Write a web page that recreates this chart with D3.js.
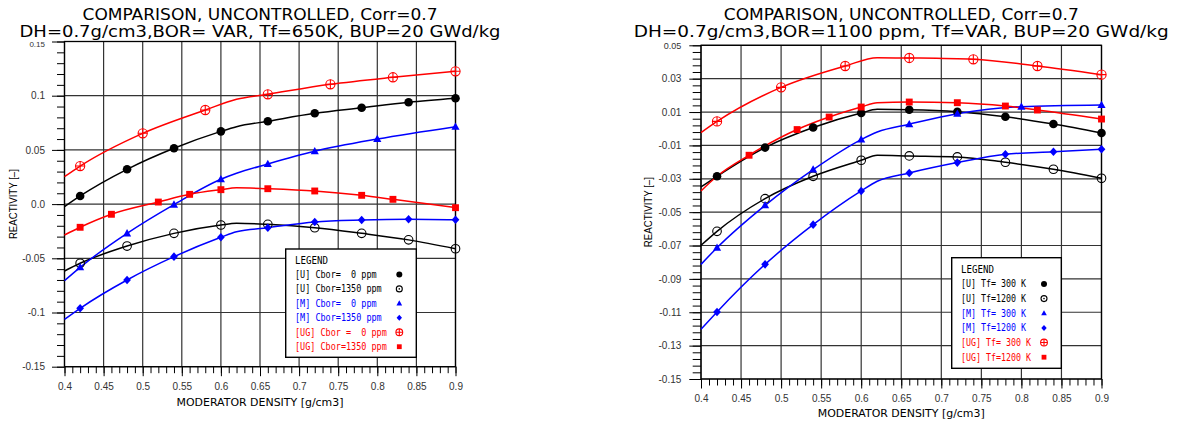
<!DOCTYPE html>
<html>
<head>
<meta charset="utf-8">
<script src="https://cdn.jsdelivr.net/npm/d3@7"></script>
<style>
  body { margin: 0; background: #fff; }
  text { white-space: pre; }
</style>
</head>
<body>
<svg id="chart" width="1178" height="423"></svg>
<script>
// ---- shared x axis ----
const xTickVals = [0.40, 0.45, 0.50, 0.55, 0.60, 0.65, 0.70, 0.75, 0.80, 0.85, 0.90];
const xTickLabels = ["0.4", "0.45", "0.5", "0.55", "0.6", "0.65", "0.7", "0.75", "0.8", "0.85", "0.9"];

// ---- left panel: boron variation ----
const leftTitle = ["COMPARISON, UNCONTROLLED, Corr=0.7", "DH=0.7g/cm3,BOR= VAR, Tf=650K, BUP=20 GWd/kg"];
const leftYTicks = [0.15, 0.1, 0.05, 0, -0.05, -0.1, -0.15];
const leftYLabels = ["0.15", "0.1", "0.05", "0.0", "-0.05", "-0.1", "-0.15"];
const leftLegend = ["[U] Cbor=  0 ppm", "[U] Cbor=1350 ppm", "[M] Cbor=  0 ppm", "[M] Cbor=1350 ppm", "[UG] Cbor =  0 ppm", "[UG] Cbor=1350 ppm"];

const leftU0 = [[0.40, -0.0024], [0.42, 0.0075], [0.48, 0.0321], [0.54, 0.0515], [0.60, 0.0671], [0.62, 0.0714], [0.66, 0.0764], [0.72, 0.0838], [0.78, 0.0889], [0.84, 0.0939], [0.90, 0.0976]];
const leftU0Marks = [0.42, 0.48, 0.54, 0.60, 0.66, 0.72, 0.78, 0.84, 0.90];
const leftU1350 = [[0.40, -0.0617], [0.42, -0.0546], [0.48, -0.0387], [0.54, -0.0270], [0.60, -0.0193], [0.62, -0.0177], [0.66, -0.0187], [0.72, -0.0218], [0.78, -0.0270], [0.84, -0.0330], [0.90, -0.0412]];
const leftU1350Marks = [0.42, 0.48, 0.54, 0.60, 0.66, 0.72, 0.78, 0.84, 0.90];
const leftM0 = [[0.40, -0.0706], [0.42, -0.0583], [0.48, -0.0270], [0.54, -0.0005], [0.60, 0.0229], [0.62, 0.0284], [0.66, 0.0370], [0.72, 0.0487], [0.80, 0.0600], [0.90, 0.0714]];
const leftM0Marks = [0.42, 0.48, 0.54, 0.60, 0.66, 0.72, 0.80, 0.90];
const leftM1350 = [[0.40, -0.1063], [0.42, -0.0961], [0.48, -0.0700], [0.54, -0.0485], [0.60, -0.0306], [0.62, -0.0255], [0.66, -0.0218], [0.72, -0.0165], [0.78, -0.0147], [0.84, -0.0140], [0.90, -0.0145]];
const leftM1350Marks = [0.42, 0.48, 0.54, 0.60, 0.66, 0.72, 0.78, 0.84, 0.90];
const leftUG0 = [[0.40, 0.0253], [0.42, 0.0351], [0.50, 0.0653], [0.58, 0.0868], [0.62, 0.0967], [0.66, 0.1013], [0.74, 0.1105], [0.82, 0.1170], [0.90, 0.1225]];
const leftUG0Marks = [0.42, 0.50, 0.58, 0.66, 0.74, 0.82, 0.90];
const leftUG1350 = [[0.40, -0.0285], [0.42, -0.0214], [0.46, -0.0094], [0.52, 0.0019], [0.56, 0.0090], [0.60, 0.0133], [0.62, 0.0151], [0.66, 0.0142], [0.72, 0.0121], [0.78, 0.0081], [0.82, 0.0044], [0.90, -0.0033]];
const leftUG1350Marks = [0.42, 0.46, 0.52, 0.56, 0.60, 0.66, 0.72, 0.78, 0.82, 0.90];

// ---- right panel: fuel temperature variation ----
const rightTitle = ["COMPARISON, UNCONTROLLED, Corr=0.7", "DH=0.7g/cm3,BOR=1100 ppm, Tf=VAR, BUP=20 GWd/kg"];
const rightYTicks = [0.05, 0.03, 0.01, -0.01, -0.03, -0.05, -0.07, -0.09, -0.11, -0.13, -0.15];
const rightYLabels = ["0.05", "0.03", "0.01", "-0.01", "-0.03", "-0.05", "-0.07", "-0.09", "-0.11", "-0.13", "-0.15"];
const rightLegend = ["[U] Tf= 300 K", "[U] Tf=1200 K", "[M] Tf= 300 K", "[M] Tf=1200 K", "[UG] Tf= 300 K", "[UG] Tf=1200 K"];

const rightU300 = [[0.40, -0.0349], [0.42, -0.0285], [0.48, -0.0113], [0.54, 0.0007], [0.60, 0.0094], [0.62, 0.0116], [0.66, 0.0114], [0.72, 0.0102], [0.78, 0.0072], [0.84, 0.0028], [0.90, -0.0026]];
const rightU300Marks = [0.42, 0.48, 0.54, 0.60, 0.66, 0.72, 0.78, 0.84, 0.90];
const rightU1200 = [[0.40, -0.0699], [0.42, -0.0615], [0.48, -0.0419], [0.54, -0.0285], [0.60, -0.0189], [0.62, -0.0159], [0.66, -0.0163], [0.72, -0.0169], [0.78, -0.0201], [0.84, -0.0243], [0.90, -0.0297]];
const rightU1200Marks = [0.42, 0.48, 0.54, 0.60, 0.66, 0.72, 0.78, 0.84, 0.90];
const rightM300 = [[0.40, -0.0813], [0.42, -0.0713], [0.48, -0.0459], [0.54, -0.0245], [0.60, -0.0065], [0.62, -0.0020], [0.66, 0.0027], [0.72, 0.0090], [0.80, 0.0132], [0.90, 0.0142]];
const rightM300Marks = [0.42, 0.48, 0.54, 0.60, 0.66, 0.72, 0.80, 0.90];
const rightM1200 = [[0.40, -0.1202], [0.42, -0.1098], [0.48, -0.0813], [0.54, -0.0575], [0.60, -0.0373], [0.62, -0.0315], [0.66, -0.0265], [0.72, -0.0203], [0.78, -0.0153], [0.84, -0.0138], [0.90, -0.0123]];
const rightM1200Marks = [0.42, 0.48, 0.54, 0.60, 0.66, 0.72, 0.78, 0.84, 0.90];
const rightUG300 = [[0.40, -0.0023], [0.42, 0.0044], [0.50, 0.0248], [0.58, 0.0376], [0.62, 0.0426], [0.66, 0.0424], [0.74, 0.0416], [0.82, 0.0376], [0.90, 0.0324]];
const rightUG300Marks = [0.42, 0.50, 0.58, 0.66, 0.74, 0.82, 0.90];
const rightUG1200 = [[0.40, -0.0373], [0.42, -0.0285], [0.46, -0.0159], [0.52, -0.0005], [0.56, 0.0070], [0.60, 0.0130], [0.62, 0.0156], [0.66, 0.0160], [0.72, 0.0156], [0.78, 0.0136], [0.82, 0.0112], [0.90, 0.0058]];
const rightUG1200Marks = [0.46, 0.52, 0.56, 0.60, 0.66, 0.72, 0.78, 0.82, 0.90];

const svg = d3.select("#chart");
const BLACK = "#000", BLUE = "#0000ff", RED = "#ff0000";

// draw one marker glyph
function mark(g, type, cx, cy, r, color, small) {
    if (type === "dot") {
        g.append("circle").attr("cx", cx).attr("cy", cy).attr("r", r).attr("fill", color);
    } else if (type === "ring") {
        g.append("circle").attr("cx", cx).attr("cy", cy).attr("r", r)
            .attr("fill", "none").attr("stroke", color).attr("stroke-width", 1.1);
        if (small) g.append("circle").attr("cx", cx).attr("cy", cy).attr("r", 0.8).attr("fill", color);
    } else if (type === "tri") {
        g.append("path")
            .attr("d", `M${cx},${cy - r}L${cx + r * 0.95},${cy + r * 0.7}L${cx - r * 0.95},${cy + r * 0.7}Z`)
            .attr("fill", color);
    } else if (type === "dia") {
        g.append("path")
            .attr("d", `M${cx},${cy - r}L${cx + r * 0.9},${cy}L${cx},${cy + r}L${cx - r * 0.9},${cy}Z`)
            .attr("fill", color);
    } else if (type === "plus") {
        g.append("circle").attr("cx", cx).attr("cy", cy).attr("r", r)
            .attr("fill", "none").attr("stroke", color).attr("stroke-width", 1.1);
        g.append("path")
            .attr("d", `M${cx - r},${cy}H${cx + r}M${cx},${cy - r}V${cy + r}`)
            .attr("stroke", color).attr("stroke-width", 1.1);
    } else if (type === "sq") {
        const h = r * 0.8;
        g.append("rect").attr("x", cx - h).attr("y", cy - h).attr("width", 2 * h).attr("height", 2 * h)
            .attr("fill", color);
    }
}

function drawPanel(p) {
    const g = svg.append("g");
    const x = d3.scaleLinear().domain([0.4, 0.9]).range([p.left, p.right]);
    const y = d3.scaleLinear().domain([p.yMin, p.yMax]).range([p.bottom, p.top]);

    // grid
    g.append("g").selectAll("line").data(xTickVals).join("line")
        .attr("x1", d => x(d)).attr("x2", d => x(d))
        .attr("y1", p.top).attr("y2", p.bottom)
        .attr("stroke", "#333").attr("stroke-width", 1.2);
    g.append("g").selectAll("line").data(p.yTicks).join("line")
        .attr("x1", p.left).attr("x2", p.right)
        .attr("y1", d => y(d)).attr("y2", d => y(d))
        .attr("stroke", "#333").attr("stroke-width", 1.2);

    // y axis: minor + major ticks
    g.append("g").attr("transform", `translate(${p.left},0)`)
        .call(d3.axisLeft(y).tickValues(p.yMinor).tickSize(p.yMinorLen).tickFormat(""))
        .call(a => a.select(".domain").remove());
    const ya = g.append("g").attr("transform", `translate(${p.left},0)`)
        .call(d3.axisLeft(y).tickValues(p.yTicks).tickSize(p.yMajorLen).tickPadding(p.yPad)
            .tickFormat((d, i) => p.yLabels[i]));
    ya.select(".domain").remove();
    ya.selectAll("text").attr("font-family", "Liberation Sans, Arial, sans-serif")
        .attr("font-size", 10).attr("fill", "#333");
    ya.selectAll(".tick").filter((d, i) => i === 0).select("text")
        .attr("font-size", p.topLabelSize).attr("y", p.topLabelShift);

    // x axis: minor + major ticks
    g.append("g").attr("transform", `translate(0,${p.bottom})`)
        .call(d3.axisBottom(x).tickValues(d3.range(40, 91).map(i => i / 100)).tickSize(6.5).tickFormat(""))
        .call(a => a.select(".domain").remove());
    const xa = g.append("g").attr("transform", `translate(0,${p.bottom})`)
        .call(d3.axisBottom(x).tickValues(xTickVals).tickSize(9.5).tickPadding(6.5)
            .tickFormat((d, i) => xTickLabels[i]));
    xa.select(".domain").remove();
    xa.selectAll("text").attr("font-family", "Liberation Sans, Arial, sans-serif")
        .attr("font-size", 10).attr("fill", "#333");
    g.selectAll(".tick line").attr("stroke", "#000");

    // frame
    g.append("rect").attr("x", p.left).attr("y", p.top)
        .attr("width", p.right - p.left).attr("height", p.bottom - p.top)
        .attr("fill", "none").attr("stroke", "#000").attr("stroke-width", 1.3);

    // curves
    const line = d3.line().x(d => x(d[0])).y(d => y(d[1])).curve(d3.curveMonotoneX);
    p.series.forEach(s => {
        g.append("path").datum(s.pts).attr("d", line)
            .attr("fill", "none").attr("stroke", s.color).attr("stroke-width", 1.5);
    });
    // markers
    p.series.forEach(s => {
        s.pts.filter(d => s.marks.some(m => Math.abs(m - d[0]) < 1e-6)).forEach(d => {
            mark(g, s.type, x(d[0]), y(d[1]), s.type === "plus" ? 4.6 : 4.3, s.color, false);
        });
    });

    // legend
    const L = p.legend;
    g.append("rect").attr("x", L.x).attr("y", L.y).attr("width", L.w).attr("height", L.h)
        .attr("fill", "#fff").attr("stroke", "#000").attr("stroke-width", 1.4);
    g.append("text").attr("x", L.tx).attr("y", L.y + L.first).attr("dy", "0.35em")
        .attr("font-family", "DejaVu Sans Mono, monospace").attr("font-size", 10)
        .attr("textLength", 33).attr("lengthAdjust", "spacingAndGlyphs")
        .text("LEGEND");
    p.series.forEach((s, i) => {
        const cy = L.y + L.first + (i + 1) * L.step;
        g.append("text").attr("x", L.tx).attr("y", cy).attr("dy", "0.35em")
            .attr("font-family", "DejaVu Sans Mono, monospace").attr("font-size", 10)
            .attr("textLength", s.label.length * L.cw).attr("lengthAdjust", "spacingAndGlyphs")
            .attr("fill", s.color).text(s.label);
        mark(g, s.type, L.mx, cy, s.type === "plus" ? 3.4 : 3, s.color, true);
    });

    // titles
    const cx = (p.left + p.right) / 2;
    p.title.forEach((t, i) => {
        g.append("text").attr("x", cx).attr("y", 20 + i * 17).attr("text-anchor", "middle")
            .attr("font-family", "DejaVu Sans, sans-serif").attr("font-size", 15)
            .attr("textLength", p.titleLen[i]).attr("lengthAdjust", "spacingAndGlyphs")
            .text(t);
    });
    g.append("text").attr("x", cx).attr("y", p.xTitleY).attr("dy", "0.35em").attr("text-anchor", "middle")
        .attr("font-family", "DejaVu Sans, sans-serif").attr("font-size", 11)
        .attr("textLength", 167).attr("lengthAdjust", "spacingAndGlyphs")
        .text("MODERATOR DENSITY [g/cm3]");
    g.append("text").attr("transform", `translate(${p.yTitleX},${(p.top + p.bottom) / 2}) rotate(-90)`)
        .attr("dy", "0.35em").attr("text-anchor", "middle")
        .attr("font-family", "Liberation Sans, Arial, sans-serif").attr("font-size", 11)
        .attr("textLength", 70).attr("lengthAdjust", "spacingAndGlyphs")
        .text("REACTIVITY [\u2013]");
}

drawPanel({
    left: 64.5, right: 455.5, top: 41.5, bottom: 366.7,
    yMin: -0.15, yMax: 0.15,
    yTicks: leftYTicks, yLabels: leftYLabels,
    yMinor: d3.range(-15, 16).map(i => i / 100),
    yMinorLen: 7.5, yMajorLen: 12.5, yPad: 7, topLabelSize: 8, topLabelShift: 2.5,
    title: leftTitle, titleLen: [355, 481],
    xTitleY: 402.5, yTitleX: 13,
    legend: { x: 285.7, y: 249, w: 130.6, h: 108.3, tx: 295, first: 11, step: 14.45, cw: 5.1, mx: 399.3 },
    series: [
        { pts: leftU0, marks: leftU0Marks, color: BLACK, type: "dot", label: leftLegend[0] },
        { pts: leftU1350, marks: leftU1350Marks, color: BLACK, type: "ring", label: leftLegend[1] },
        { pts: leftM0, marks: leftM0Marks, color: BLUE, type: "tri", label: leftLegend[2] },
        { pts: leftM1350, marks: leftM1350Marks, color: BLUE, type: "dia", label: leftLegend[3] },
        { pts: leftUG0, marks: leftUG0Marks, color: RED, type: "plus", label: leftLegend[4] },
        { pts: leftUG1350, marks: leftUG1350Marks, color: RED, type: "sq", label: leftLegend[5] }
    ]
});

drawPanel({
    left: 701, right: 1101.5, top: 45.3, bottom: 379,
    yMin: -0.15, yMax: 0.05,
    yTicks: rightYTicks, yLabels: rightYLabels,
    yMinor: d3.range(-150, 51, 4).map(i => i / 1000),
    yMinorLen: 8.3, yMajorLen: 11.7, yPad: 8, topLabelSize: 9, topLabelShift: 0,
    title: rightTitle, titleLen: [355, 535],
    xTitleY: 413.3, yTitleX: 648,
    legend: { x: 951.7, y: 257.7, w: 109.6, h: 110.6, tx: 961, first: 11.6, step: 14.65, cw: 5.0, mx: 1044 },
    series: [
        { pts: rightU300, marks: rightU300Marks, color: BLACK, type: "dot", label: rightLegend[0] },
        { pts: rightU1200, marks: rightU1200Marks, color: BLACK, type: "ring", label: rightLegend[1] },
        { pts: rightM300, marks: rightM300Marks, color: BLUE, type: "tri", label: rightLegend[2] },
        { pts: rightM1200, marks: rightM1200Marks, color: BLUE, type: "dia", label: rightLegend[3] },
        { pts: rightUG300, marks: rightUG300Marks, color: RED, type: "plus", label: rightLegend[4] },
        { pts: rightUG1200, marks: rightUG1200Marks, color: RED, type: "sq", label: rightLegend[5] }
    ]
});
</script>
</body>
</html>
